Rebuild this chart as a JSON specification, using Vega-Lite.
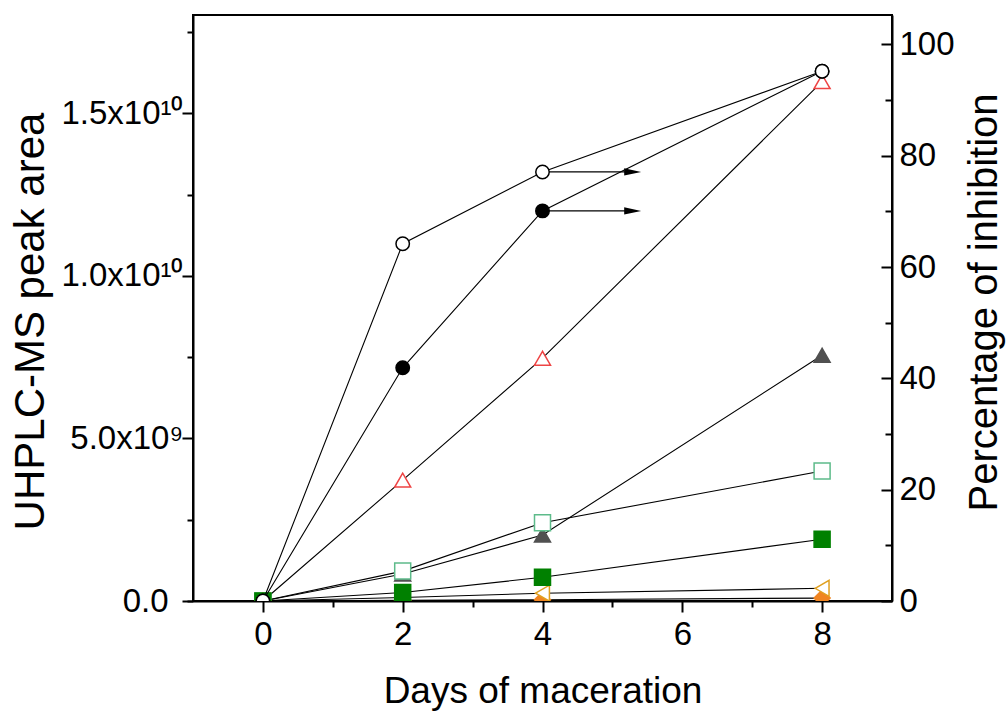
{
  "$schema": "https://vega.github.io/schema/vega-lite/v6.json",
  "width": 699,
  "height": 586,
  "autosize": "none",
  "padding": {"left": 193, "top": 15, "right": 115, "bottom": 110},
  "config": {
    "font": "Liberation Sans",
    "view": {"stroke": "black", "strokeWidth": 2},
    "axis": {
      "labelFont": "Liberation Sans",
      "titleFont": "Liberation Sans",
      "labelFontSize": 33,
      "titleFontSize": 37,
      "titleFontWeight": "normal",
      "labelColor": "black",
      "titleColor": "black",
      "domainColor": "black",
      "domainWidth": 2,
      "tickColor": "black",
      "tickWidth": 2,
      "grid": false
    }
  },
  "datasets": {
    "area": [
      {"series": "A", "day": 0, "area": 0},
      {"series": "A", "day": 2, "area": 3720000000},
      {"series": "A", "day": 4, "area": 7470000000},
      {"series": "A", "day": 8, "area": 15980000000},
      {"series": "B", "day": 0, "area": 0},
      {"series": "B", "day": 2, "area": 830000000},
      {"series": "B", "day": 4, "area": 2030000000},
      {"series": "B", "day": 8, "area": 7560000000},
      {"series": "C", "day": 0, "area": 0},
      {"series": "C", "day": 2, "area": 920000000},
      {"series": "C", "day": 4, "area": 2410000000},
      {"series": "C", "day": 8, "area": 4000000000},
      {"series": "F", "day": 0, "area": 0},
      {"series": "F", "day": 2, "area": 20000000},
      {"series": "F", "day": 4, "area": 40000000},
      {"series": "F", "day": 8, "area": 90000000},
      {"series": "E", "day": 0, "area": 0},
      {"series": "E", "day": 2, "area": 110000000},
      {"series": "E", "day": 4, "area": 240000000},
      {"series": "E", "day": 8, "area": 390000000},
      {"series": "D", "day": 0, "area": 0},
      {"series": "D", "day": 2, "area": 260000000},
      {"series": "D", "day": 4, "area": 730000000},
      {"series": "D", "day": 8, "area": 1900000000}
    ],
    "pct": [
      {"series": "filled", "day": 0, "pct": 0},
      {"series": "filled", "day": 2, "pct": 41.9},
      {"series": "filled", "day": 4, "pct": 70.1},
      {"series": "filled", "day": 8, "pct": 95.2},
      {"series": "open", "day": 0, "pct": 0},
      {"series": "open", "day": 2, "pct": 64.2},
      {"series": "open", "day": 4, "pct": 77.1},
      {"series": "open", "day": 8, "pct": 95.2}
    ],
    "arrows": [
      {"start": 4, "end": 5.29, "pct": 77.1},
      {"start": 4, "end": 5.29, "pct": 70.1}
    ]
  },
  "layer": [
    {
      "data": {"name": "area"},
      "encoding": {
        "x": {
          "field": "day", "type": "quantitative",
          "scale": {"domain": [-1, 9], "nice": false, "zero": false},
          "axis": {"orient": "bottom", "values": [0, 2, 4, 6, 8], "tickSize": 11, "labelPadding": 6, "title": "Days of maceration", "titleBaseline": "alphabetic", "titleY": 101}
        },
        "y": {
          "field": "area", "type": "quantitative",
          "scale": {"domain": [0, 18030000000], "nice": false},
          "axis": {
            "orient": "left", "values": [0, 5000000000, 10000000000, 15000000000], "tickSize": 11, "labelPadding": -1,
            "labelExpr": "datum.value == 0 ? '' : datum.value == 5000000000 ? '5.0x10⁹' : datum.value == 10000000000 ? '1.0x10¹⁰' : '1.5x10¹⁰'",
            "title": "UHPLC-MS peak area", "titleFontSize": 42, "titleBaseline": "middle", "titleX": -163, "titleY": 306
          }
        }
      },
      "layer": [
        {"mark": {"type": "line", "color": "black", "strokeWidth": 1.1}, "encoding": {"detail": {"field": "series"}}},
        {
          "mark": {"type": "point", "filled": true, "opacity": 1, "strokeWidth": 1.5, "clip": true},
          "encoding": {
            "shape": {"field": "series", "type": "nominal", "legend": null, "scale": {"domain": ["A", "B", "C", "D", "E", "F"], "range": ["triangle-up", "triangle-up", "square", "square", "triangle-left", "diamond"]}},
            "fill": {"field": "series", "type": "nominal", "legend": null, "scale": {"domain": ["A", "B", "C", "D", "E", "F"], "range": ["white", "#505050", "white", "#008000", "white", "#f08522"]}},
            "stroke": {"field": "series", "type": "nominal", "legend": null, "scale": {"domain": ["A", "B", "C", "D", "E", "F"], "range": ["#ee4444", "#505050", "#5dbb8a", "#008000", "#e0a020", "#f08522"]}},
            "size": {"field": "series", "type": "nominal", "legend": null, "scale": {"domain": ["A", "B", "C", "D", "E", "F"], "range": [256, 256, 144, 144, 256, 150]}}
          }
        }
      ]
    },
    {
      "encoding": {
        "x": {"field": "day", "type": "quantitative", "scale": {"domain": [-1, 9], "nice": false, "zero": false}, "axis": null},
        "y": {
          "field": "pct", "type": "quantitative",
          "scale": {"domain": [0, 105.3], "nice": false},
          "axis": {
            "orient": "right", "values": [0, 20, 40, 60, 80, 100], "tickSize": -11, "labelPadding": 18,
            "title": "Percentage of inhibition", "titleFontSize": 40, "titleAngle": 270, "titleBaseline": "middle", "titleX": 92, "titleY": 287
          }
        }
      },
      "layer": [
        {"data": {"name": "pct"}, "mark": {"type": "line", "color": "black", "strokeWidth": 1.1}, "encoding": {"detail": {"field": "series"}}},
        {"data": {"name": "arrows"}, "mark": {"type": "rule", "color": "black", "strokeWidth": 1.2}, "encoding": {"x": {"field": "start", "type": "quantitative"}, "x2": {"field": "end"}}},
        {"data": {"name": "arrows"}, "mark": {"type": "point", "filled": true, "opacity": 1, "color": "black", "shape": "M-1,-0.42L1,0L-1,0.42Z", "size": 289}, "encoding": {"x": {"field": "end", "type": "quantitative"}}},
        {
          "data": {"name": "pct"},
          "mark": {"type": "point", "filled": true, "opacity": 1, "shape": "circle", "size": 180, "strokeWidth": 1.5, "clip": true, "stroke": "black"},
          "encoding": {
            "fill": {"field": "series", "type": "nominal", "legend": null, "scale": {"domain": ["filled", "open"], "range": ["black", "white"]}}
          }
        }
      ]
    },
    {
      "data": {"name": "area"},
      "mark": {"type": "point", "opacity": 0},
      "encoding": {
        "x": {
          "field": "day", "type": "quantitative",
          "scale": {"domain": [-1, 9], "nice": false, "zero": false},
          "axis": {"orient": "bottom", "values": [1, 3, 5, 7], "tickSize": 6, "labels": false, "domain": false, "title": null}
        },
        "y": {
          "field": "area", "type": "quantitative",
          "scale": {"domain": [0, 18030000000], "nice": false},
          "axis": {"orient": "left", "values": [0, 2500000000, 7500000000, 12500000000, 17500000000], "tickSize": 6, "labelPadding": 19, "labelExpr": "datum.value == 0 ? '0.0' : ''", "domain": false, "title": null}
        }
      }
    },
    {
      "data": {"name": "pct"},
      "mark": {"type": "point", "opacity": 0},
      "encoding": {
        "x": {"field": "day", "type": "quantitative", "scale": {"domain": [-1, 9], "nice": false, "zero": false}, "axis": null},
        "y": {
          "field": "pct", "type": "quantitative",
          "scale": {"domain": [0, 105.3], "nice": false},
          "axis": {"orient": "right", "values": [10, 30, 50, 70, 90], "tickSize": -7, "labels": false, "domain": false, "title": null}
        }
      }
    }
  ],
  "resolve": {
    "scale": {"y": "independent", "fill": "independent", "stroke": "independent", "shape": "independent", "size": "independent"},
    "axis": {"x": "independent"}
  }
}
